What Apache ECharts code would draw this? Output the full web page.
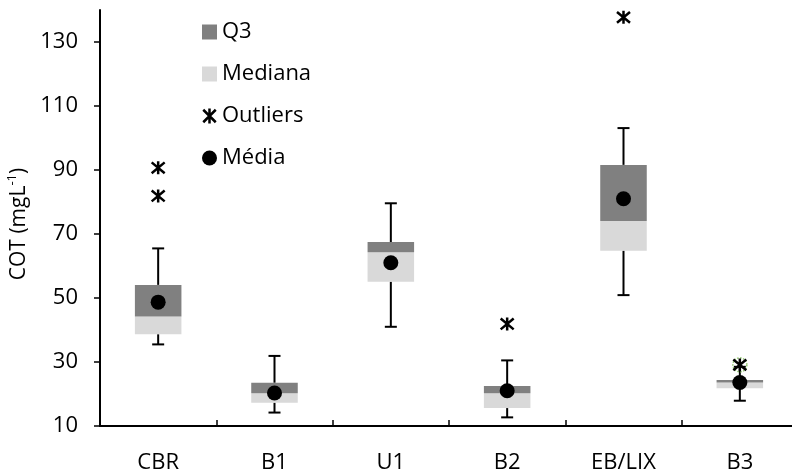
<!DOCTYPE html>
<html>
<head>
<meta charset="utf-8">
<script src="https://cdn.jsdelivr.net/npm/echarts@6/dist/echarts.min.js"></script>
<style>
  html, body { margin: 0; padding: 0; background: #fff; }
  #chart { width: 792px; height: 472px; }
</style>
</head>
<body>
<div id="chart"></div>
<script>
// Box-plot summary of COT per sampling site
const categories = ['CBR', 'B1', 'U1', 'B2', 'EB/LIX', 'B3'];
const whiskerMin = [35.5, 14.2, 41.0, 12.7, 50.9, 17.9];
const q1Values = [38.7, 17.3, 55.1, 15.6, 64.8, 21.8];
const medianValues = [44.2, 20.2, 64.3, 20.2, 74.1, 23.6];
const q3Values = [54.1, 23.5, 67.5, 22.5, 91.6, 24.4];
const whiskerMax = [65.5, 31.9, 79.6, 30.5, 103.1, 28.5];
const meanValues = [48.7, 20.3, 61.0, 21.0, 81.0, 23.6];
const outlierValues = [
  ['CBR', 90.7], ['CBR', 81.9], ['B2', 41.9], ['EB/LIX', 137.7], ['B3', 29.1]
];
const flaggedPoint = [['B3', 29.1]];
const yTicks = [10, 30, 50, 70, 90, 110, 130];

const FONT = '"Open Sans", "Noto Sans", sans-serif';
const FS = 22;
const starPath = 'path://M0,0L10,10M10,0L0,10M5,-1L5,11';

// stacked segments: invisible base up to Q1, then Q1→median, median→Q3
const baseSeg = q1Values;
const medSeg = medianValues.map((m, i) => +(m - q1Values[i]).toFixed(2));
const q3Seg = q3Values.map((q, i) => +(q - medianValues[i]).toFixed(2));
const whiskerData = categories.map((c, i) => [i, whiskerMin[i], q1Values[i], q3Values[i], whiskerMax[i]]);

const chart = echarts.init(document.getElementById('chart'), null, { renderer: 'canvas' });

chart.setOption({
  animation: false,
  textStyle: { fontFamily: FONT },
  grid: { left: 100, right: -6, top: 10, bottom: 46, containLabel: false, outerBoundsMode: 'none' },
  legend: {
    orient: 'vertical',
    left: 197,
    top: 16,
    itemWidth: 15,
    itemHeight: 15,
    itemGap: 20,
    textStyle: { fontFamily: FONT, fontSize: FS, color: '#000', lineHeight: 22 },
    data: [
      { name: 'Q3', icon: 'rect' },
      { name: 'Mediana', icon: 'rect' },
      { name: 'Outliers', itemStyle: { color: 'rgba(0,0,0,0)', borderColor: '#000', borderWidth: 2.5, opacity: 1 } },
      { name: 'Média', icon: 'circle' }
    ]
  },
  xAxis: {
    type: 'category',
    data: categories,
    axisLine: { lineStyle: { color: '#000', width: 2 } },
    axisTick: { show: true, inside: true, length: 6, lineStyle: { color: '#000', width: 1.5 } },
    axisLabel: { color: '#000', fontSize: FS, fontFamily: FONT, margin: 26 },
    splitLine: { show: false }
  },
  yAxis: {
    type: 'value',
    min: 10,
    max: 140,
    interval: 20,
    name: '{main|COT (mgL}{sup|-1}{main|)}',
    nameLocation: 'middle',
    nameGap: 50,
    nameTextStyle: {
      fontFamily: FONT, fontSize: 21, color: '#000',
      padding: [0, 12, 0, 0],
      rich: {
        main: { fontSize: 21, fontFamily: FONT, color: '#000', lineHeight: 26 },
        sup: { fontSize: 13, fontFamily: FONT, color: '#000', verticalAlign: 'top', lineHeight: 18 }
      }
    },
    axisLine: { show: true, lineStyle: { color: '#000', width: 2 } },
    axisTick: { show: true, length: 6, customValues: yTicks, lineStyle: { color: '#000', width: 1.5 } },
    axisLabel: { color: '#000', fontSize: FS, fontFamily: FONT, margin: 22, customValues: yTicks },
    splitLine: { show: false }
  },
  series: [
    {
      type: 'custom',
      name: 'whiskers',
      z: 1,
      silent: true,
      data: whiskerData,
      encode: { x: 0, y: [1, 2, 3, 4] },
      renderItem: function (params, api) {
        const i = api.value(0);
        const pMin = api.coord([i, api.value(1)]);
        const pQ1 = api.coord([i, api.value(2)]);
        const pQ3 = api.coord([i, api.value(3)]);
        const pMax = api.coord([i, api.value(4)]);
        const half = 6;
        const style = { stroke: '#000', lineWidth: 2 };
        return {
          type: 'group',
          children: [
            { type: 'line', shape: { x1: pMin[0], y1: pMin[1], x2: pQ1[0], y2: pQ1[1] }, style: style },
            { type: 'line', shape: { x1: pQ3[0], y1: pQ3[1], x2: pMax[0], y2: pMax[1] }, style: style },
            { type: 'line', shape: { x1: pMin[0] - half, y1: pMin[1], x2: pMin[0] + half, y2: pMin[1] }, style: style },
            { type: 'line', shape: { x1: pMax[0] - half, y1: pMax[1], x2: pMax[0] + half, y2: pMax[1] }, style: style }
          ]
        };
      }
    },
    {
      type: 'bar',
      name: 'base',
      stack: 'box',
      barWidth: '40%',
      silent: true,
      itemStyle: { color: 'rgba(0,0,0,0)' },
      data: baseSeg
    },
    {
      type: 'bar',
      name: 'Mediana',
      stack: 'box',
      barWidth: '40%',
      itemStyle: { color: '#d9d9d9' },
      data: medSeg
    },
    {
      type: 'bar',
      name: 'Q3',
      stack: 'box',
      barWidth: '40%',
      itemStyle: { color: '#808080' },
      data: q3Seg
    },
    {
      type: 'scatter',
      name: 'flagged',
      z: 3,
      symbol: 'circle',
      symbolSize: 14,
      itemStyle: { color: 'rgba(0,0,0,0)', borderColor: '#8cc46a', borderWidth: 1.5, borderType: 'dotted', opacity: 1 },
      data: flaggedPoint
    },
    {
      type: 'scatter',
      name: 'Outliers',
      z: 4,
      symbol: starPath,
      symbolSize: 13,
      itemStyle: { color: 'rgba(0,0,0,0)', borderColor: '#000', borderWidth: 2.5, opacity: 1 },
      data: outlierValues
    },
    {
      type: 'scatter',
      name: 'Média',
      z: 5,
      symbol: 'circle',
      symbolSize: 15,
      itemStyle: { color: '#000', opacity: 1 },
      data: meanValues
    }
  ]
});
</script>
</body>
</html>
